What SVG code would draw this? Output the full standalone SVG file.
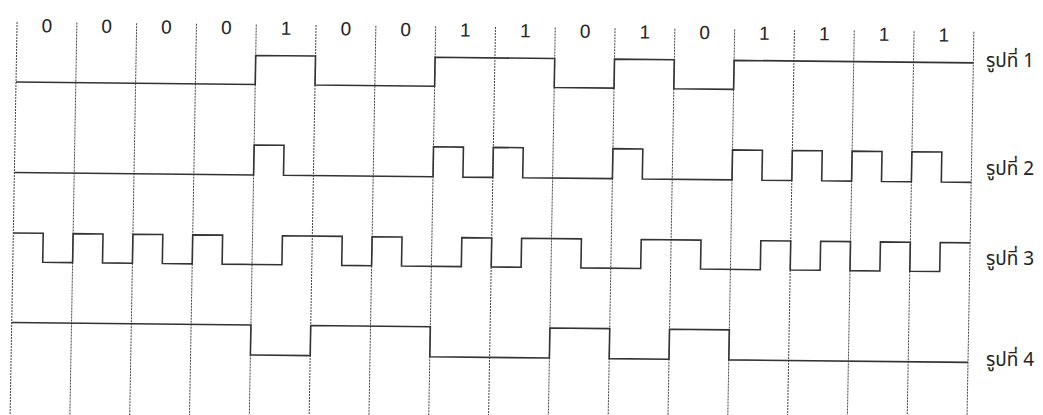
<svg xmlns="http://www.w3.org/2000/svg" width="1043" height="415" viewBox="0 0 1043 415">
  <style>
    .grid { stroke: #444; stroke-width: 1; stroke-dasharray: 2 1; fill: none; }
    .wave { stroke: #333; stroke-width: 1.6; fill: none; stroke-linejoin: miter; }
    .bit { font-family: "Liberation Sans", Arial, sans-serif; font-size: 19px; fill: #222; text-anchor: middle; }
    .lbl { font-family: "Noto Sans Thai", "Liberation Sans", "DejaVu Sans", sans-serif; font-size: 19px; fill: #222; }
  </style>
  <rect width="1043" height="415" fill="#ffffff"/>
  <g id="diagram" transform="matrix(1 0.0103 -0.0178 1 3.56 -5.15)">
    <g id="grid">
      <line class="grid" x1="14" y1="27" x2="14" y2="440"/>
      <line class="grid" x1="73.8" y1="27" x2="73.8" y2="440"/>
      <line class="grid" x1="133.6" y1="27" x2="133.6" y2="440"/>
      <line class="grid" x1="193.4" y1="27" x2="193.4" y2="440"/>
      <line class="grid" x1="253.2" y1="27" x2="253.2" y2="440"/>
      <line class="grid" x1="313" y1="27" x2="313" y2="440"/>
      <line class="grid" x1="372.8" y1="27" x2="372.8" y2="440"/>
      <line class="grid" x1="432.6" y1="27" x2="432.6" y2="440"/>
      <line class="grid" x1="492.4" y1="27" x2="492.4" y2="440"/>
      <line class="grid" x1="552.2" y1="27" x2="552.2" y2="440"/>
      <line class="grid" x1="612" y1="27" x2="612" y2="440"/>
      <line class="grid" x1="671.8" y1="27" x2="671.8" y2="440"/>
      <line class="grid" x1="731.6" y1="27" x2="731.6" y2="440"/>
      <line class="grid" x1="791.4" y1="27" x2="791.4" y2="440"/>
      <line class="grid" x1="851.2" y1="27" x2="851.2" y2="440"/>
      <line class="grid" x1="911" y1="27" x2="911" y2="440"/>
      <line class="grid" x1="970.8" y1="27" x2="970.8" y2="440"/>
    </g>
    <g id="bits">
      <text class="bit" x="43.9" y="37">0</text>
      <text class="bit" x="103.7" y="37">0</text>
      <text class="bit" x="163.5" y="37">0</text>
      <text class="bit" x="223.3" y="37">0</text>
      <text class="bit" x="283.1" y="37">1</text>
      <text class="bit" x="342.9" y="37">0</text>
      <text class="bit" x="402.7" y="37">0</text>
      <text class="bit" x="462.5" y="37">1</text>
      <text class="bit" x="522.3" y="37">1</text>
      <text class="bit" x="582.1" y="37">0</text>
      <text class="bit" x="641.9" y="37">1</text>
      <text class="bit" x="701.7" y="37">0</text>
      <text class="bit" x="761.5" y="37">1</text>
      <text class="bit" x="821.3" y="37">1</text>
      <text class="bit" x="881.1" y="37">1</text>
      <text class="bit" x="940.9" y="37">1</text>
    </g>
    <g id="wave1">
      <path class="wave" d="M14,87 H253.2 V58 H313 V87 H432.6 V58 H552.2 V87 H612 V58 H671.8 V87 H731.6 V58 H970.8"/>
    </g>
    <g id="wave2">
      <path class="wave" d="M14,177.5 H253.2 V147.5 H283.1 V177.5 H432.6 V147.5 H462.5 V177.5 H492.4 V147.5 H522.3 V177.5 H612 V147.5 H641.9 V177.5 H731.6 V147.5 H761.5 V177.5 H791.4 V147.5 H821.3 V177.5 H851.2 V147.5 H881.1 V177.5 H911 V147.5 H940.9 V177.5 H970.8"/>
    </g>
    <g id="wave3">
      <path class="wave" d="M14,238 H43.9 V267 H73.8 V238 H103.7 V267 H133.6 V238 H163.5 V267 H193.4 V238 H223.3 V267 H283.1 V238 H342.9 V267 H372.8 V238 H402.7 V267 H462.5 V238 H492.4 V267 H522.3 V238 H582.1 V267 H641.9 V238 H701.7 V267 H761.5 V238 H791.4 V267 H821.3 V238 H851.2 V267 H881.1 V238 H911 V267 H940.9 V238 H970.8"/>
    </g>
    <g id="wave4">
      <path class="wave" d="M14,327.5 H253.2 V357.5 H313 V327.5 H432.6 V357.5 H552.2 V327.5 H612 V357.5 H671.8 V327.5 H731.6 V357.5 H970.8"/>
    </g>
  </g>
  <g id="labels">
    <text class="lbl" x="986" y="67">รูปที่ 1</text>
    <text class="lbl" x="986" y="175">รูปที่ 2</text>
    <text class="lbl" x="986" y="265">รูปที่ 3</text>
    <text class="lbl" x="986" y="366">รูปที่ 4</text>
  </g>
</svg>
